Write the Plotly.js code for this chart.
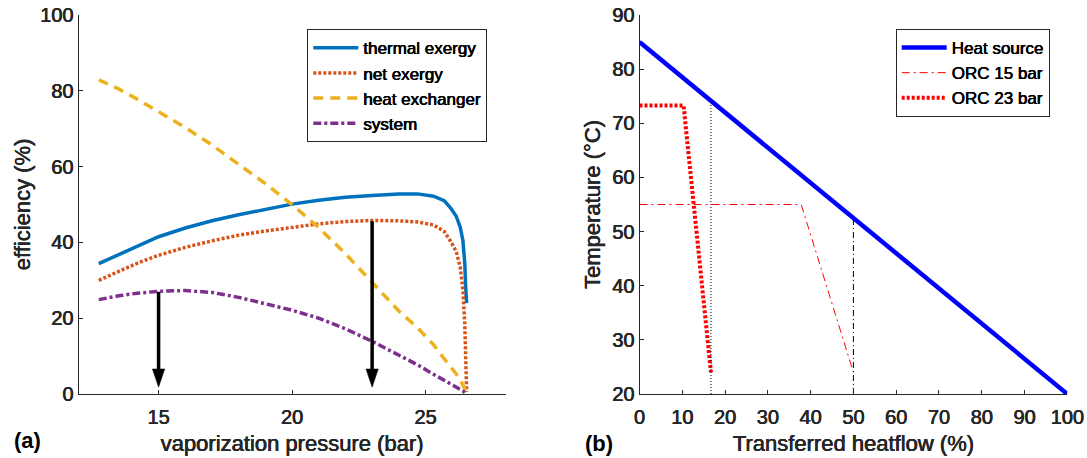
<!DOCTYPE html>
<html>
<head>
<meta charset="utf-8">
<script src="https://cdn.plot.ly/plotly-3.0.1.min.js"></script>
<style>html,body{margin:0;padding:0;background:#fff;}#chart{width:1087px;height:458px;}</style>
</head>
<body>
<div id="chart"></div>
<script>
// ---------- Panel (a) data ----------
const pressure = [12.76, 13.5, 14.2, 15, 16, 17, 18, 19, 20, 21, 22, 23, 24, 24.7, 25.3, 25.7, 25.95, 26.15, 26.3, 26.4, 26.47, 26.51, 26.54];
const thermalExergy = [34.4, 36.8, 39.0, 41.5, 43.8, 45.7, 47.3, 48.8, 50.1, 51.1, 51.9, 52.4, 52.8, 52.8, 52.2, 51.0, 49.0, 46.9, 44.0, 40.5, 34.5, 27.5, 24.0];
const netExergy = [30.0, 32.3, 34.5, 36.6, 38.7, 40.4, 41.9, 43.0, 44.0, 44.9, 45.5, 45.8, 45.7, 45.4, 44.6, 42.9, 40.2, 37.6, 33.5, 27.5, 18.7, 8.0, 0.5];
const heatExchanger = [82.9, 80.5, 77.8, 74.5, 70.3, 65.7, 60.7, 55.5, 50.0, 43.9, 37.0, 29.4, 21.9, 17.5, 13.0, 9.3, 7.2, 5.3, 3.7, 2.2, 1.4, 0.9, 0.5];
const systemEff = [24.9, 25.9, 26.6, 27.1, 27.3, 26.8, 25.5, 23.9, 22.1, 20.0, 17.2, 13.9, 10.2, 7.7, 5.2, 3.7, 2.7, 1.9, 1.2, 0.8, 0.5, 0.2, 0.0];
const seriesNamesA = ['thermal exergy', 'net exergy', 'heat exchanger', 'system'];
const arrowX = [15, 23];
const arrowTop = [27.0, 45.6];
const arrowTip = [1.8, 1.8];

// ---------- Panel (b) data ----------
const heatSourceX = [0, 100];
const heatSourceT = [85, 20];
const orc15X = [0, 37.8, 50];
const orc15T = [55, 55, 24];
const orc23X = [0, 10.3, 16.7];
const orc23T = [73.3, 73.3, 24];
const seriesNamesB = ['Heat source', 'ORC 15 bar', 'ORC 23 bar'];
const pinchX = [16.7, 50];
const pinchTop = [74.1, 52.5];

const xTicksA = [15, 20, 25];
const yTicksA = [0, 20, 40, 60, 80, 100];
const xTicksB = [0, 10, 20, 30, 40, 50, 60, 70, 80, 90, 100];
const yTicksB = [20, 30, 40, 50, 60, 70, 80, 90];

const AX = '#262626';
const FONT = 'Liberation Sans, Arial, Helvetica, sans-serif';
const SH = '0.4px 0 0 ' + AX + ', -0.2px 0 0 ' + AX;
const SHK = '0.4px 0 0 #000, -0.2px 0 0 #000';

const traces = [
  {x: pressure, y: thermalExergy, name: seriesNamesA[0], mode: 'lines', line: {color: '#0072BD', width: 3.5}, xaxis: 'x', yaxis: 'y', legend: 'legend'},
  {x: pressure, y: netExergy, name: seriesNamesA[1], mode: 'lines', line: {color: '#D95319', width: 3.5, dash: '3px,2px'}, xaxis: 'x', yaxis: 'y', legend: 'legend'},
  {x: pressure, y: heatExchanger, name: seriesNamesA[2], mode: 'lines', line: {color: '#EDB120', width: 3.5, dash: '10px,7px'}, xaxis: 'x', yaxis: 'y', legend: 'legend'},
  {x: pressure, y: systemEff, name: seriesNamesA[3], mode: 'lines', line: {color: '#7E2F8E', width: 3.5, dash: '8px,3px,3px,3px'}, xaxis: 'x', yaxis: 'y', legend: 'legend'},
  {x: heatSourceX, y: heatSourceT, name: seriesNamesB[0], mode: 'lines', line: {color: '#0000FF', width: 4.5}, xaxis: 'x2', yaxis: 'y2', legend: 'legend2'},
  {x: orc15X, y: orc15T, name: seriesNamesB[1], mode: 'lines', line: {color: '#FF0000', width: 1, dash: '8px,4px,2px,4px'}, xaxis: 'x2', yaxis: 'y2', legend: 'legend2'},
  {x: orc23X, y: orc23T, name: seriesNamesB[2], mode: 'lines', line: {color: '#FF0000', width: 4, dash: '3px,2px'}, xaxis: 'x2', yaxis: 'y2', legend: 'legend2'}
];

// pinch lines (no legend)
traces.push({x: [pinchX[0], pinchX[0]], y: [20, pinchTop[0]], mode: 'lines', showlegend: false, hoverinfo: 'skip', line: {color: '#000', width: 1, dash: '1px,2px'}, xaxis: 'x2', yaxis: 'y2'});
traces.push({x: [pinchX[1], pinchX[1]], y: [20, pinchTop[1]], mode: 'lines', showlegend: false, hoverinfo: 'skip', line: {color: '#000', width: 1, dash: '6px,3px,1px,3px'}, xaxis: 'x2', yaxis: 'y2'});

// arrows (shaft + head) built from arrow arrays
const shapes = [];
const headLen = 4.8;   // in y units
const headHalf = 0.23; // in x units
for (let i = 0; i < arrowX.length; i++) {
  shapes.push({type: 'line', xref: 'x', yref: 'y', x0: arrowX[i], x1: arrowX[i], y0: arrowTop[i], y1: arrowTip[i] + headLen * 0.9, line: {color: '#000', width: 3.5}});
  const ax = arrowX[i], ty = arrowTip[i];
  shapes.push({type: 'path', xref: 'x', yref: 'y',
    path: `M${ax - headHalf},${ty + headLen} L${ax + headHalf},${ty + headLen} L${ax},${ty} Z`,
    fillcolor: '#000', line: {color: '#000', width: 0.5}});
}

function axisBase(extra) {
  return Object.assign({
    showline: true, linecolor: AX, linewidth: 1, mirror: false,
    ticks: 'inside', ticklen: 4, tickwidth: 1, tickcolor: AX,
    showgrid: false, zeroline: false,
    tickfont: {family: FONT, size: 20, color: AX, shadow: SH},
    fixedrange: true
  }, extra);
}
const titleFont = {family: FONT, size: 22, color: AX, shadow: SH};

const layout = {
  width: 1087, height: 458,
  margin: {l: 0, r: 0, t: 15, b: 64},
  paper_bgcolor: '#fff', plot_bgcolor: '#fff',
  font: {family: FONT, color: AX, size: 20},
  xaxis: axisBase({domain: [78.5 / 1087, 505.6 / 1087], range: [12, 28], tickvals: xTicksA, anchor: 'y', ticklabelstandoff: 5,
    title: {text: 'vaporization pressure (bar)', font: titleFont, standoff: 8}}),
  yaxis: axisBase({domain: [0, 1], range: [0, 100], tickvals: yTicksA, anchor: 'x',
    title: {text: 'efficiency (%)', font: titleFont, standoff: 3}}),
  xaxis2: axisBase({domain: [639.5 / 1087, 1067.3 / 1087], range: [0, 100], tickvals: xTicksB, anchor: 'y2', ticklabelstandoff: 5,
    title: {text: 'Transferred heatflow (%)', font: titleFont, standoff: 8}}),
  yaxis2: axisBase({domain: [0, 1], range: [20, 90], tickvals: yTicksB, anchor: 'x2',
    title: {text: 'Temperature (°C)', font: titleFont, standoff: 5}}),
  legend: {x: 307.3 / 1087, y: (394 - 29.3) / 379, xanchor: 'left', yanchor: 'top',
    bordercolor: AX, borderwidth: 1, bgcolor: '#fff', font: {family: FONT, size: 17, color: '#000', shadow: SHK},
    itemwidth: 45, tracegroupgap: 0},
  legend2: {x: 895.7 / 1087, y: (394 - 29) / 379, xanchor: 'left', yanchor: 'top',
    bordercolor: AX, borderwidth: 1, bgcolor: '#fff', font: {family: FONT, size: 17, color: '#000', shadow: SHK},
    itemwidth: 45, tracegroupgap: 0},
  annotations: [
    {text: '(a)', xref: 'paper', yref: 'paper', x: 27 / 1087, y: (394 - 440) / 379, xanchor: 'center', yanchor: 'middle', showarrow: false, font: {family: FONT, size: 22, color: '#000', weight: 'bold'}},
    {text: '(b)', xref: 'paper', yref: 'paper', x: 599 / 1087, y: (394 - 443) / 379, xanchor: 'center', yanchor: 'middle', showarrow: false, font: {family: FONT, size: 22, color: '#000', weight: 'bold'}}
  ],
  shapes: shapes
};

Plotly.newPlot('chart', traces, layout, {displayModeBar: false, staticPlot: true});
</script>
</body>
</html>
